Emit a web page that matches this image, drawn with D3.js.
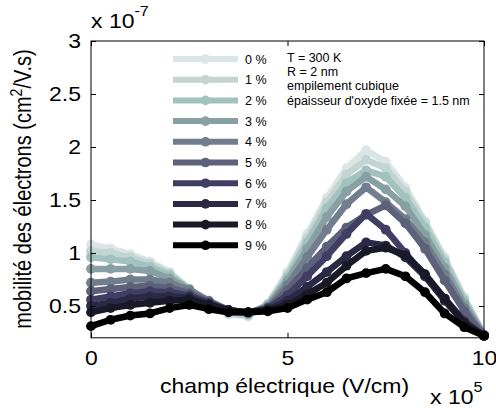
<!DOCTYPE html>
<html><head><meta charset="utf-8">
<script src="https://cdn.jsdelivr.net/npm/d3@7"></script>
<style>
body{margin:0;background:#fff}
svg{display:block}
text{font-family:"Liberation Sans",Arial,Helvetica,sans-serif;fill:#000}
</style>
</head><body>
<svg id="chart" width="496" height="408"></svg>
<script>
// ---- data ----
const fields = [0,0.5,1,1.5,2,2.5,3,3.5,4,4.5,5,5.5,6,6.5,7,7.5,8,8.5,9,9.5,10]; // x 10^5 V/cm
const seriesLabels = ["0 %","1 %","2 %","3 %","4 %","5 %","6 %","7 %","8 %","9 %"];
const seriesColors = ["#dce5e5","#c2d5d2","#a2c2be","#88a0a3","#727e8d","#5d6179","#413e64","#2b2945","#1a1928","#000000"];
const mob0 = [1.08,1.04,0.99,0.92,0.82,0.66,0.51,0.42,0.40,0.52,0.82,1.18,1.52,1.80,1.97,1.86,1.62,1.30,0.96,0.58,0.23];
const mob1 = [1.02,1.00,0.96,0.90,0.81,0.66,0.52,0.43,0.41,0.52,0.80,1.14,1.48,1.74,1.88,1.80,1.58,1.28,0.94,0.57,0.23];
const mob2 = [0.96,0.94,0.92,0.87,0.79,0.66,0.53,0.44,0.42,0.51,0.77,1.10,1.42,1.66,1.78,1.72,1.52,1.24,0.91,0.55,0.23];
const mob3 = [0.85,0.85,0.85,0.83,0.76,0.66,0.54,0.45,0.43,0.50,0.74,1.04,1.34,1.58,1.72,1.60,1.44,1.17,0.86,0.52,0.23];
const mob4 = [0.72,0.73,0.75,0.75,0.72,0.65,0.55,0.46,0.43,0.49,0.70,0.96,1.22,1.46,1.62,1.48,1.32,1.10,0.80,0.48,0.22];
const mob5 = [0.64,0.66,0.68,0.69,0.67,0.62,0.54,0.46,0.44,0.48,0.65,0.86,1.06,1.24,1.36,1.45,1.28,1.04,0.74,0.45,0.22];
const mob6 = [0.56,0.59,0.62,0.64,0.63,0.60,0.53,0.46,0.44,0.48,0.60,0.78,0.97,1.18,1.37,1.22,1.00,0.78,0.57,0.36,0.22];
const mob7 = [0.50,0.53,0.57,0.59,0.59,0.58,0.52,0.46,0.44,0.47,0.55,0.68,0.82,0.97,1.10,1.07,0.96,0.78,0.55,0.34,0.22];
const mob8 = [0.44,0.48,0.51,0.53,0.55,0.56,0.51,0.46,0.44,0.46,0.51,0.61,0.72,0.88,1.02,1.05,0.98,0.80,0.57,0.34,0.22];
const mob9 = [0.31,0.37,0.41,0.43,0.48,0.51,0.47,0.44,0.44,0.45,0.48,0.56,0.63,0.76,0.81,0.85,0.78,0.63,0.43,0.30,0.22];
const mobilities = [mob0,mob1,mob2,mob3,mob4,mob5,mob6,mob7,mob8,mob9]; // x 10^-7 cm2/V.s
const xTicks = [0,5,10];
const yTicks = [0.5,1,1.5,2,2.5,3];
const annotation = ["T = 300 K","R = 2 nm","empilement cubique","\u00e9paisseur d'oxyde fix\u00e9e = 1.5 nm"];

// ---- layout ----
const svg = d3.select("#chart");
const L = 91, R = 484, T = 41, B = 337.8;
const x = d3.scaleLinear().domain([0,10]).range([L,R]);
const y = d3.scaleLinear().domain([0.2,3]).range([B,T]);
const SX = 1.15; // horizontal stretch of large text

// data lines
const line = d3.line().x((d,i)=>x(fields[i])).y(d=>y(d));
const gData = svg.append("g");
mobilities.forEach((vals,k)=>{
  const g = gData.append("g");
  g.append("path").attr("d",line(vals)).attr("fill","none")
    .attr("stroke",seriesColors[k]).attr("stroke-width",6.5)
    .attr("stroke-linejoin","round").attr("stroke-linecap","round");
  g.selectAll("circle").data(vals).join("circle")
    .attr("cx",(d,i)=>x(fields[i])).attr("cy",d=>y(d)).attr("r",4.9)
    .attr("fill",seriesColors[k]);
});

// axes (box with inward ticks)
const fs = 20;
const gx = svg.append("g").attr("transform",`translate(0,${B})`)
  .call(d3.axisBottom(x).tickValues(xTicks).tickSizeInner(-5).tickSizeOuter(0).tickPadding(13).tickFormat(d3.format("d")));
const gy = svg.append("g").attr("transform",`translate(${L},0)`)
  .call(d3.axisLeft(y).tickValues(yTicks).tickSizeInner(-5).tickSizeOuter(0).tickPadding(10).tickFormat(d=>String(d)));
const gt = svg.append("g").attr("transform",`translate(0,${T})`)
  .call(d3.axisTop(x).tickValues(xTicks).tickSizeInner(-5).tickSizeOuter(0).tickFormat(""));
const gr = svg.append("g").attr("transform",`translate(${R},0)`)
  .call(d3.axisRight(y).tickValues(yTicks).tickSizeInner(-5).tickSizeOuter(0).tickFormat(""));
[gx,gy,gt,gr].forEach(g=>{
  g.select(".domain").remove();
  g.selectAll("line").attr("stroke","#000");
  g.selectAll("text").attr("font-size",fs).attr("font-family",null).attr("fill","#000");
});
gx.selectAll(".tick text").attr("transform",`scale(${SX},1)`);
gy.selectAll(".tick text").attr("transform",`scale(${SX},1)`).attr("x",-10/SX);
svg.append("rect").attr("x",L).attr("y",T).attr("width",R-L).attr("height",B-T)
  .attr("fill","none").attr("stroke","#000").attr("stroke-width",1);

// axis labels
svg.append("text").attr("transform",`translate(${(L+R)/2-3},393) scale(${SX},1)`)
  .attr("text-anchor","middle").attr("font-size",fs).text("champ \u00e9lectrique (V/cm)");
const xe = svg.append("text").attr("transform",`translate(430,403.5) scale(${SX},1)`).attr("font-size",fs);
xe.append("tspan").text("x 10");
xe.append("tspan").attr("font-size",14).attr("dy",-12).text("5");

const yl = svg.append("text").attr("transform",`translate(31,189) scale(${SX},1) rotate(-90)`)
  .attr("text-anchor","middle").attr("font-size",fs);
yl.append("tspan").text("mobilit\u00e9 des \u00e9lectrons (cm");
yl.append("tspan").attr("font-size",14).attr("dy",-8).text("2");
yl.append("tspan").attr("dy",8).text("/V.s)");

const ye = svg.append("text").attr("transform",`translate(91,28) scale(${SX},1)`).attr("font-size",fs);
ye.append("tspan").text("x 10");
ye.append("tspan").attr("font-size",14).attr("dy",-12).text("-7");

// legend
const leg = svg.append("g");
seriesLabels.forEach((lab,k)=>{
  const yy = 59 + k*20.7;
  leg.append("line").attr("x1",173).attr("x2",238).attr("y1",yy).attr("y2",yy)
    .attr("stroke",seriesColors[k]).attr("stroke-width",6);
  leg.append("circle").attr("cx",205.5).attr("cy",yy).attr("r",4.8).attr("fill",seriesColors[k]);
  leg.append("text").attr("x",245).attr("y",yy+4.5).attr("font-size",12.5).text(lab);
});

// annotation
annotation.forEach((s,i)=>{
  svg.append("text").attr("x",287).attr("y",62 + i*14.2).attr("font-size",12.5).text(s);
});
</script>
</body></html>
